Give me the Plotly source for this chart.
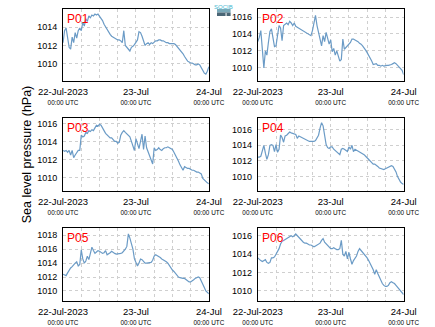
import pandas as pd
import plotly.graph_objects as go

# Half-hourly sea level pressure (hPa), 22-Jul-2023 00:00 UTC to 24-Jul-2023 00:00 UTC
times = pd.date_range("2023-07-22 00:00", "2023-07-24 00:00", freq="30min")

p01 = [1012.3, 1013.6, 1013.9, 1013.0, 1011.8, 1011.6, 1012.9, 1012.3, 1013.4, 1012.8,
       1013.6, 1013.9, 1013.6, 1014.5, 1014.1, 1014.9, 1014.6, 1015.2, 1015.0, 1015.3,
       1015.2, 1015.4, 1015.3, 1015.4, 1015.2, 1015.0, 1014.7, 1014.3, 1014.0, 1013.7,
       1013.4, 1013.2, 1013.0, 1012.9, 1012.8, 1012.7, 1012.6, 1012.6, 1012.5, 1012.3,
       1013.6, 1012.0, 1011.8, 1011.5, 1011.4, 1011.8, 1011.9, 1012.1, 1012.3, 1012.6,
       1013.5, 1013.4, 1013.0, 1012.6, 1012.0, 1012.2, 1012.3, 1012.1, 1012.3, 1012.2,
       1012.4, 1012.5, 1012.5, 1012.6, 1012.6, 1012.5, 1012.5, 1012.4, 1012.3, 1012.3,
       1012.2, 1012.2, 1012.2, 1012.2, 1012.1, 1011.9, 1011.7, 1011.6, 1011.4, 1011.1,
       1010.8, 1010.5, 1010.3, 1010.2, 1010.1, 1010.1, 1010.0, 1009.9, 1009.9, 1010.0,
       1009.9, 1009.6, 1009.3, 1009.0, 1008.9, 1009.2, 1009.7]
p02 = [1013.1, 1013.6, 1014.4, 1012.5, 1010.0, 1012.0, 1011.5, 1013.0, 1014.3, 1014.6,
       1013.5, 1012.5, 1012.6, 1013.8, 1015.0, 1014.7, 1013.2, 1015.0, 1015.2, 1015.3,
       1015.1, 1015.5, 1015.3, 1015.0, 1015.3, 1014.9, 1014.8, 1014.7, 1014.6, 1014.5,
       1014.4, 1014.3, 1014.2, 1014.1, 1014.0, 1013.8, 1014.4, 1015.5, 1016.2, 1015.0,
       1014.3, 1013.5, 1012.6, 1013.8, 1013.1, 1014.2, 1013.5, 1012.8, 1013.3, 1011.9,
       1012.3, 1011.5, 1012.0, 1011.3, 1010.8, 1011.0, 1013.4, 1012.2, 1012.4, 1012.6,
       1012.7, 1013.0, 1013.4, 1013.4, 1013.3, 1013.2, 1013.1, 1012.9, 1012.8, 1012.6,
       1012.4, 1012.1, 1011.8, 1011.5, 1011.1, 1010.8, 1010.4, 1010.5, 1010.5, 1010.3,
       1010.3, 1010.2, 1010.3, 1010.2, 1010.3, 1010.3, 1010.3, 1010.4, 1010.4, 1010.5,
       1010.6, 1010.5, 1010.3, 1010.1, 1010.0, 1009.7, 1009.2]
p03 = [1013.0, 1012.9, 1013.0, 1012.8, 1013.0, 1012.5, 1013.0, 1012.2, 1012.5, 1012.8,
       1013.0, 1013.0, 1014.7, 1014.5, 1014.6, 1015.0, 1014.9, 1015.2, 1015.1, 1015.3,
       1015.2, 1015.5, 1015.8, 1015.7, 1015.9, 1015.8, 1015.4, 1015.2, 1014.9, 1014.7,
       1014.6, 1014.4, 1014.4, 1014.2, 1014.0, 1014.0, 1013.8, 1013.9, 1014.7, 1015.0,
       1015.2, 1015.0, 1014.8, 1014.6, 1014.5, 1014.0, 1013.5, 1013.0, 1014.3, 1013.6,
       1013.2, 1014.0, 1014.8, 1013.1, 1014.6, 1013.3, 1012.8, 1012.4, 1012.0, 1011.5,
       1013.3, 1013.0, 1013.1, 1013.3, 1013.1, 1013.0, 1013.2, 1013.3, 1013.3, 1013.4,
       1013.3, 1013.2, 1013.1, 1012.8, 1012.5, 1012.2, 1011.8, 1011.4, 1011.0, 1010.8,
       1011.2, 1011.1, 1011.0, 1011.0, 1010.9, 1010.8, 1010.8, 1010.7, 1010.6, 1010.6,
       1010.5, 1010.4, 1009.9, 1009.7, 1009.5, 1009.4, 1009.3]
p04 = [1012.5, 1012.5, 1012.6, 1013.5, 1014.0, 1013.0, 1012.2, 1012.8, 1014.0, 1014.1,
       1014.0, 1013.2, 1014.1, 1013.1, 1013.5, 1015.3, 1015.0, 1014.4, 1015.2, 1015.3,
       1015.5, 1015.7, 1015.6, 1015.5, 1015.5, 1015.4, 1014.9, 1015.2, 1015.1, 1015.0,
       1014.9, 1014.7, 1014.6, 1014.5, 1014.5, 1014.5, 1014.5, 1014.5, 1014.6, 1014.9,
       1015.3, 1016.2, 1016.9, 1016.5, 1015.0, 1014.1, 1013.7, 1013.6, 1013.8, 1013.8,
       1013.5, 1013.3, 1013.1, 1012.9, 1012.8, 1013.5, 1013.6, 1013.5, 1013.4, 1013.2,
       1013.8, 1013.5, 1014.0, 1013.2, 1013.5, 1013.4, 1013.3, 1013.2, 1013.0, 1012.9,
       1012.8, 1012.6, 1012.4, 1012.2, 1012.0, 1011.8, 1011.6, 1011.6, 1011.5, 1011.3,
       1011.1, 1011.0, 1010.9, 1010.9, 1011.0, 1011.1, 1011.2, 1011.3, 1011.4, 1011.3,
       1011.0, 1010.6, 1010.0, 1009.6, 1009.3, 1009.1, 1009.0]
p05 = [1012.4, 1012.3, 1012.2, 1012.6, 1013.0, 1013.3, 1013.5, 1013.8, 1014.0, 1014.2,
       1013.6, 1013.8, 1015.9, 1014.6, 1014.0, 1014.3, 1015.0, 1014.5, 1015.6, 1016.3,
       1015.8, 1015.4, 1015.6, 1015.8, 1015.7, 1015.6, 1015.4, 1015.5, 1015.8, 1015.2,
       1015.3, 1015.5, 1015.7, 1015.5, 1015.4, 1015.3, 1015.3, 1015.4, 1015.4, 1015.5,
       1015.7, 1016.0, 1016.4, 1018.2, 1017.6, 1016.8, 1016.0, 1014.6, 1014.0, 1013.6,
       1014.0, 1014.6, 1014.5, 1014.3, 1014.0, 1014.0, 1014.0, 1014.0, 1014.1, 1014.4,
       1015.0, 1015.2, 1015.1, 1015.0, 1014.8, 1014.6, 1014.5, 1014.4, 1014.2, 1014.0,
       1013.6, 1013.3, 1013.0, 1012.8, 1012.5, 1012.2, 1012.0, 1011.9, 1011.8, 1011.8,
       1011.8, 1011.6, 1011.4, 1011.3, 1011.3, 1011.4, 1011.6, 1011.8, 1011.9, 1012.0,
       1011.9, 1011.5, 1011.0, 1010.5, 1010.0, 1009.8, 1009.6]
p06 = [1013.6, 1013.4, 1013.3, 1013.2, 1013.3, 1013.4, 1013.1, 1013.0, 1013.1, 1013.6,
       1013.6, 1013.7, 1014.0, 1014.3, 1014.6, 1015.1, 1015.4, 1015.5, 1015.6, 1015.7,
       1015.8, 1015.9, 1016.0, 1015.9, 1016.0, 1016.2, 1016.0, 1015.8, 1015.6, 1015.4,
       1015.3, 1015.2, 1015.2, 1015.1, 1015.0, 1015.0, 1014.9, 1014.8, 1014.9, 1015.0,
       1015.1, 1015.2, 1015.5, 1015.7, 1015.3, 1015.1, 1014.9, 1014.7, 1014.6, 1014.6,
       1014.7, 1014.6, 1014.5, 1014.5, 1014.6, 1015.5, 1014.0, 1013.8, 1014.3, 1013.5,
       1014.2, 1013.5, 1012.9, 1013.3, 1013.6, 1013.8, 1014.3, 1014.6, 1014.4, 1014.2,
       1014.0, 1013.9, 1013.6, 1013.3, 1013.0, 1012.7, 1012.3, 1011.8, 1012.3, 1011.9,
       1011.5, 1011.1, 1010.8, 1010.6, 1010.5, 1010.5, 1010.6, 1010.9, 1011.0, 1010.9,
       1010.8, 1010.6, 1010.4, 1010.2, 1010.0, 1009.8, 1009.6]

stations = ["P01", "P02", "P03", "P04", "P05", "P06"]
series = [p01, p02, p03, p04, p05, p06]
y_ranges = [[1008.15, 1015.95], [1008.45, 1016.95], [1008.5, 1016.6],
            [1008.15, 1017.5], [1008.55, 1019.05], [1008.9, 1016.85]]

x_ticks = pd.date_range("2023-07-22 00:00", "2023-07-24 00:00", freq="6h")
big = "<span style='font-size:9.5px'>{}</span>"
small = "<span style='font-size:6.4px'>00:00 UTC</span>"
x_text = [big.format("22-Jul-2023") + "<br>" + small, "", "", "",
          big.format("23-Jul") + "<br>" + small, "", "", "",
          big.format("24-Jul") + "<br>" + small]

W, H = 435, 327
col_px = [(42, 203), (257, 418)]
row_px = [(9, 81), (118, 191), (228, 301)]

FONT = "Liberation Sans, Arial, sans-serif"
LINE_COLOR = "#6b9bc6"
GRID = "#cfcfcf"

fig = go.Figure()
layout = dict(
    width=W, height=H,
    margin=dict(l=0, r=0, t=0, b=0),
    paper_bgcolor="white", plot_bgcolor="white",
    showlegend=False,
    font=dict(family=FONT, size=9, color="black"),
)
annotations = []

for i, (name, vals) in enumerate(zip(stations, series)):
    r, c = divmod(i, 2)
    x0, x1 = col_px[c]
    y0, y1 = row_px[r]
    xa = "xaxis" if i == 0 else f"xaxis{i + 1}"
    ya = "yaxis" if i == 0 else f"yaxis{i + 1}"
    xref = "x" if i == 0 else f"x{i + 1}"
    yref = "y" if i == 0 else f"y{i + 1}"
    fig.add_trace(go.Scatter(x=times, y=vals, mode="lines", xaxis=xref, yaxis=yref,
                             line=dict(color=LINE_COLOR, width=1.2)))
    layout[xa] = dict(
        domain=[x0 / W, x1 / W], anchor=yref,
        range=[times[0], times[-1]],
        tickvals=list(x_ticks), ticktext=x_text, tickangle=0,
        showgrid=True, gridcolor=GRID, griddash="dot", gridwidth=1,
        showline=True, linecolor="black", linewidth=1, mirror=True,
        ticks="", zeroline=False, ticklabelstandoff=4,
        tickfont=dict(size=7.7, family=FONT),
    )
    layout[ya] = dict(
        domain=[1 - y1 / H, 1 - y0 / H], anchor=xref,
        range=y_ranges[i], dtick=2, tick0=1010,
        showgrid=True, gridcolor=GRID, griddash="dot", gridwidth=1,
        showline=True, linecolor="black", linewidth=1, mirror=True,
        ticks="", zeroline=False, ticklabelstandoff=3,
        tickfont=dict(size=9, family=FONT),
    )
    annotations.append(dict(
        text=name, xref="paper", yref="paper",
        x=(x0 + 2) / W, y=1 - (y0 + 1) / H, xanchor="left", yanchor="top",
        showarrow=False, font=dict(size=12, color="red", family=FONT),
    ))

# Shared y-axis title on the middle-left panel
layout["yaxis3"]["title"] = dict(text="Sea level pressure (hPa)", standoff=2,
                                 font=dict(size=12.5, family=FONT))

# Small SOCIB mark in the top gap between the columns
annotations.append(dict(
    text="SOCIB", xref="paper", yref="paper",
    x=219.5 / W, y=1 - 2 / H, xanchor="center", yanchor="top",
    showarrow=False, font=dict(size=6, color="#3fb7cf", family=FONT),
))
layout["shapes"] = [
    dict(type="rect", xref="paper", yref="paper",
         x0=212 / W, x1=227 / W, y0=1 - 12.5 / H, y1=1 - 9 / H,
         fillcolor="#79a9b9", line=dict(width=0)),
    dict(type="rect", xref="paper", yref="paper",
         x0=212 / W, x1=227 / W, y0=1 - 16 / H, y1=1 - 12.5 / H,
         fillcolor="#4a6676", line=dict(width=0)),
    dict(type="line", xref="paper", yref="paper",
         x0=222 / W, x1=222 / W, y0=1 - 16 / H, y1=1 - 10 / H,
         line=dict(color="white", width=1, dash="dot")),
]
layout["annotations"] = annotations
fig.update_layout(**layout)
fig.write_html("out.html")
